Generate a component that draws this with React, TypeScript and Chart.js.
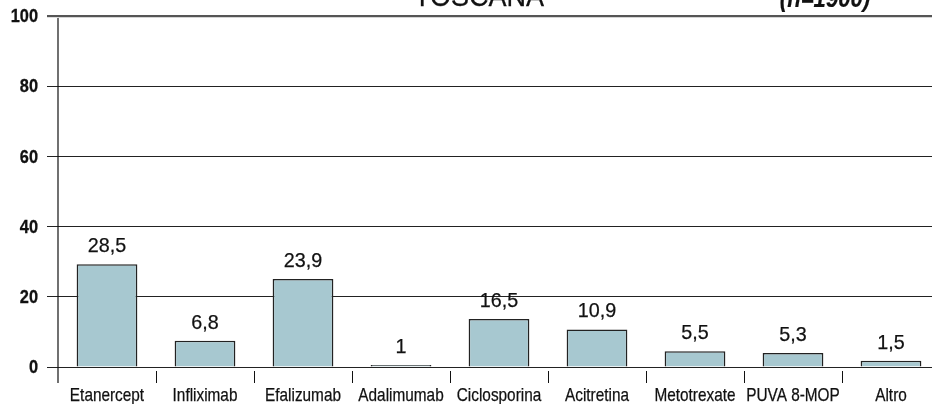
import React, { useEffect, useRef } from "react";
import { Chart, registerables } from "chart.js";

Chart.register(...registerables);

const categories = ["Etanercept", "Infliximab", "Efalizumab", "Adalimumab", "Ciclosporina", "Acitretina", "Metotrexate", "PUVA 8-MOP", "Altro"];
const barValues = [29.3, 7.5, 25.1, 0.6, 13.7, 10.7, 4.5, 4.0, 1.8];
const valueLabels = ["28,5", "6,8", "23,9", "1", "16,5", "10,9", "5,5", "5,3", "1,5"];
const yTicks = [0, 20, 40, 60, 80, 100];
const titleText = "TOSCANA";
const sampleText = "(n=1900)";

const FONT = "'Liberation Sans', Arial, sans-serif";

// draw condensed text (Helvetica-Condensed look) by horizontally scaling Liberation Sans
function condText(ctx: CanvasRenderingContext2D, text: string, x: number, y: number, font: string, sx: number, align: CanvasTextAlign, baseline: CanvasTextBaseline, weight: number) {
  ctx.save();
  ctx.font = font;
  ctx.textAlign = align;
  ctx.textBaseline = baseline;
  ctx.translate(x, y);
  ctx.scale(sx, 1);
  ctx.fillText(text, 0, 0);
  if (weight > 0) {
    ctx.lineWidth = weight;
    ctx.strokeStyle = ctx.fillStyle as string;
    ctx.strokeText(text, 0, 0);
  }
  ctx.restore();
}

const decorPlugin = {
  id: "decor",
  afterDraw(chart: any) {
    const ctx = chart.ctx as CanvasRenderingContext2D;
    const area = chart.chartArea;
    const x = chart.scales.x;
    const y = chart.scales.y;
    const meta = chart.getDatasetMeta(0);
    ctx.save();
    // y axis line
    ctx.strokeStyle = "#111";
    ctx.lineWidth = 1.2;
    ctx.beginPath();
    ctx.moveTo(area.left, area.top + 2);
    ctx.lineTo(area.left, area.bottom + 16);
    ctx.stroke();
    // category separator ticks
    const step = x.getPixelForValue(1) - x.getPixelForValue(0);
    ctx.lineWidth = 1;
    for (let i = 0; i < categories.length - 1; i++) {
      const px = Math.round(x.getPixelForValue(i) + step / 2) + 0.5;
      ctx.beginPath();
      ctx.moveTo(px, area.bottom + 4);
      ctx.lineTo(px, area.bottom + 16);
      ctx.stroke();
    }
    ctx.fillStyle = "#111111";
    // y tick labels
    yTicks.forEach((v) => {
      condText(ctx, String(v), area.left - 20, y.getPixelForValue(v) + 1, `bold 19px ${FONT}`, 0.86, "right", "middle", 0.3);
    });
    // category labels
    categories.forEach((c, i) => {
      condText(ctx, c, x.getPixelForValue(i), area.bottom + 34, `18.5px ${FONT}`, 0.83, "center", "alphabetic", 0.25);
    });
    // value labels
    meta.data.forEach((bar: any, i: number) => {
      condText(ctx, valueLabels[i], bar.x, bar.y - 12, `21px ${FONT}`, 0.94, "center", "alphabetic", 0.25);
    });
    // title
    condText(ctx, titleText, 479, 6, `30px ${FONT}`, 0.9, "center", "alphabetic", 0.3);
    condText(ctx, sampleText, 825, 7, `italic bold 26px ${FONT}`, 0.85, "center", "alphabetic", 0.2);
    ctx.restore();
  },
};

export default function App() {
  const ref = useRef<HTMLCanvasElement>(null);
  useEffect(() => {
    const chart = new Chart(ref.current!, {
      type: "bar",
      data: {
        labels: categories,
        datasets: [
          {
            data: barValues,
            backgroundColor: "#a7c8d0",
            borderColor: "#222222",
            borderWidth: 1.6,
            barPercentage: 0.62,
            categoryPercentage: 1,
          },
        ],
      },
      options: {
        animation: false,
        responsive: false,
        maintainAspectRatio: false,
        layout: { padding: { top: 16, left: 0, right: 0, bottom: 0 } },
        plugins: { legend: { display: false }, tooltip: { enabled: false }, title: { display: false } },
        scales: {
          x: {
            grid: { display: false, drawTicks: false },
            border: { display: false },
            ticks: { display: false },
            afterFit: (s: any) => { s.height = 37; },
          },
          y: {
            min: 0,
            max: 100,
            afterBuildTicks: (s: any) => { s.ticks = yTicks.map((v) => ({ value: v })); },
            grid: {
              color: (c: any) => (c.tick && c.tick.value === 100 ? "#555" : "#222"),
              lineWidth: (c: any) => (c.tick && c.tick.value === 100 ? 2.2 : 1),
              drawTicks: true,
              tickLength: 11,
            },
            border: { display: false },
            ticks: { display: false },
            afterFit: (s: any) => { s.width = 58; },
          },
        },
      },
      plugins: [decorPlugin],
    });
    return () => chart.destroy();
  }, []);
  return (
    <div style={{ position: "fixed", left: 0, top: 0, width: 940, height: 404, background: "#fff" }}>
      <canvas ref={ref} width={940} height={404} style={{ width: 940, height: 404, display: "block" }} />
    </div>
  );
}
